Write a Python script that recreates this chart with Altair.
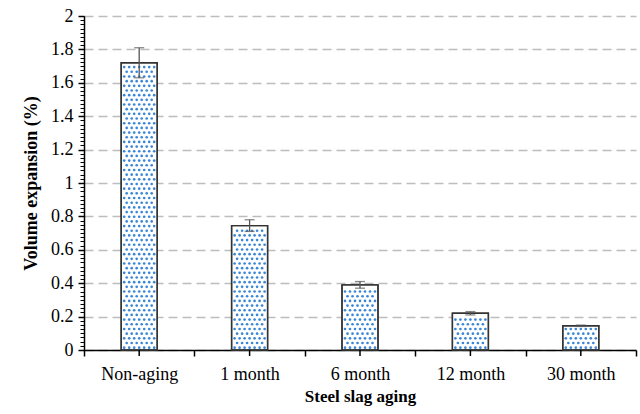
import altair as alt
import numpy as np
import pandas as pd

# Volume expansion of steel slag after different aging periods
categories = ["Non-aging", "1 month", "6 month", "12 month", "30 month"]
expansion = [1.72, 0.745, 0.39, 0.22, 0.145]
error = [0.09, 0.035, 0.02, 0.01, 0.004]

bars = pd.DataFrame({"aging": categories, "value": expansion, "err": error})
bars["lo"] = bars["value"] - bars["err"]
bars["hi"] = bars["value"] + bars["err"]

FONT = "Liberation Serif"
W, H = 552, 334
STEP = W / len(categories)
BAR_W = 36

# Stipple texture inside each bar: staggered grid of small dots
rows = []
ystep = 0.028
for cat, v in zip(categories, expansion):
    k = 0
    y = 0.014
    while y < v - 0.012:
        shift = 2.5 if k % 2 else 0.0
        for ox in np.arange(-15.0, 15.1, 5.0):
            oxs = ox + shift
            if abs(oxs) <= 16:
                rows.append({"aging": cat, "y": y, "ox": oxs + STEP / 2})
        y += ystep
        k += 1
dots = pd.DataFrame(rows)

x_scale = alt.Scale(domain=categories, paddingInner=0, paddingOuter=0)
y_scale = alt.Scale(domain=[0, 2], nice=False)

x_axis = alt.Axis(
    labelAngle=0, labelFont=FONT, labelFontSize=18, labelColor="#000",
    labelPadding=9, titleFont=FONT, titleFontSize=17, titleFontWeight="bold",
    titleColor="#000", titlePadding=5, domainColor="#000", domainWidth=1.5,
    tickColor="#000", tickWidth=1.5, tickSize=6, tickBand="extent", grid=False,
)
y_axis = alt.Axis(
    orient="left", values=[round(0.2 * i, 1) for i in range(11)], format="~g",
    labelFont=FONT, labelFontSize=18, labelColor="#000", labelPadding=5,
    titleFont=FONT, titleFontSize=18, titleFontWeight="bold", titleColor="#000",
    titlePadding=10, domainColor="#000", domainWidth=1.5, tickColor="#000",
    tickWidth=1.5, tickSize=6, grid=True, gridDash=[9, 5], gridColor="#bdbdbd",
    gridWidth=1.5,
)


def xe(field="aging:N"):
    return alt.X(field, scale=x_scale, sort=categories, title="Steel slag aging", axis=x_axis)


def ye(field):
    return alt.Y(field, scale=y_scale, title="Volume  expansion  (%)", axis=y_axis)


base_bars = alt.Chart(bars).mark_bar(
    size=BAR_W, fill="white", stroke="#333", strokeWidth=1.4
).encode(x=xe(), y=ye("value:Q"))

texture = alt.Chart(dots).mark_circle(size=7, color="#3a86d6", opacity=1).encode(
    x=xe(),
    xOffset=alt.XOffset("ox:Q", scale=None),
    y=ye("y:Q"),
)

outline = alt.Chart(bars).mark_bar(
    size=BAR_W, fillOpacity=0, stroke="#333", strokeWidth=1.4
).encode(x=xe(), y=ye("value:Q"))

err_rule = alt.Chart(bars).mark_rule(color="#555", strokeWidth=1.3).encode(
    x=xe(), y=ye("lo:Q"), y2="hi:Q",
)
err_top = alt.Chart(bars).mark_tick(color="#555", thickness=1.3, size=10).encode(
    x=xe(), y=ye("hi:Q"),
)
err_bot = alt.Chart(bars).mark_tick(color="#555", thickness=1.3, size=10).encode(
    x=xe(), y=ye("lo:Q"),
)

# Ticks under each category centre
center_ticks = alt.Chart(bars).mark_rule(color="#000", strokeWidth=1.5).encode(
    x=xe(), y=alt.value(H), y2=alt.value(H + 6),
)

main = alt.layer(base_bars, texture, outline, err_rule, err_top, err_bot, center_ticks)

# Minor ticks on the value axis
minor = alt.Chart(bars).mark_point(opacity=0).encode(
    x=xe(),
    y=alt.Y(
        "value:Q", scale=y_scale,
        axis=alt.Axis(
            orient="left", values=[round(0.025 * i, 3) for i in range(81)],
            labels=False, domain=False, grid=False, tickColor="#000",
            tickWidth=1, tickSize=4, title=None,
        ),
    ),
)

chart = (
    alt.layer(main, minor)
    .resolve_axis(y="independent")
    .properties(
        width=W, height=H,
        autosize=alt.AutoSizeParams(type="none"),
        padding={"left": 84, "top": 16, "right": 4, "bottom": 64},
    )
    .configure(background="white", font=FONT)
    .configure_axis(labelFont=FONT, titleFont=FONT)
    .configure_view(stroke=None)
)

chart.save("out.html", embed_options={"renderer": "svg", "actions": False})
